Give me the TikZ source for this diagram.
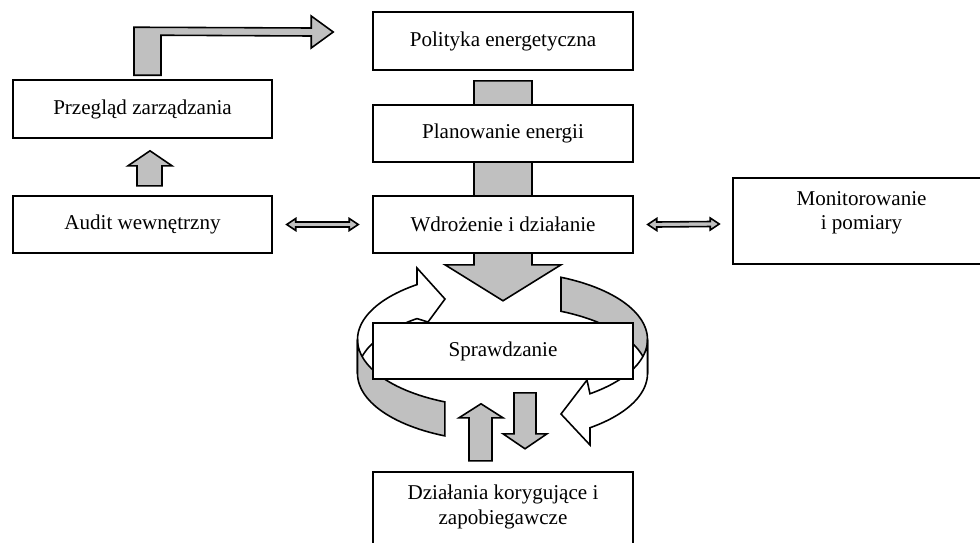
\documentclass[tikz,border=0pt]{standalone}
\usepackage{fontspec}
\setmainfont{Liberation Serif}
\usetikzlibrary{calc,backgrounds}
\definecolor{blockgray}{RGB}{192,192,192}
\begin{document}
\begin{tikzpicture}[x=0.02cm,y=-0.02cm,
  box/.style={draw, fill=white, line width=0.9pt, inner sep=0pt, align=center,
    font=\fontsize{12pt}{13.8pt}\selectfont},
  txt/.style={inner sep=0pt, align=center, font=\fontsize{12pt}{13.8pt}\selectfont},
  blk/.style={draw, fill=blockgray, line width=0.9pt, line join=miter},
  ringw/.style={draw, fill=white, line width=0.9pt, line join=miter},
  ringg/.style={draw, fill=blockgray, line width=0.9pt, line join=miter}]
\useasboundingbox (0,0) rectangle (980,542);
\clip (0,0) rectangle (980,542);

% boxes
\node[box, minimum width=5.2cm, minimum height=1.16cm] (pol) at (503,41) {Polityka energetyczna};
\node[box, minimum width=5.2cm, minimum height=1.14cm] (plan) at (503,133.5) {Planowanie energii};
\node[box, minimum width=5.2cm, minimum height=1.14cm] (wdr) at (503,224.5) {Wdrożenie i działanie};
\node[box, minimum width=5.18cm, minimum height=1.16cm] (prz) at (142.5,109) {Przegląd zarządzania};
\node[box, minimum width=5.18cm, minimum height=1.14cm] (aud) at (142.5,224.5) {Audit wewnętrzny};
\node[box, minimum width=5.14cm, minimum height=1.72cm] (mon) at (861.5,221) {};
\node[txt] at ($(mon.center)+(0,-8)$) {Monitorowanie\\i pomiary};
\node[box, minimum width=5.2cm, minimum height=1.12cm] (spr) at (503,351) {Sprawdzanie};
\node[box, minimum width=5.2cm, minimum height=1.76cm] (dzi) at (503,516) {};
\node[txt] at ($(dzi.center)+(0,-9)$) {Działania korygujące i\\zapobiegawcze};

\begin{pgfonlayer}{background}
  % central block arrow behind Planowanie / Wdrozenie
  \coordinate (c0) at ($(pol.south)+(-29,10)$);
  \draw[blk] (c0) -- ++(58,0) -- ++(0,184) -- ++(29,0) -- ($(wdr.south)+(0,47)$)
     -- ++(-58,-36) -- ++(29,0) -- cycle;
  % ring: back parts
  \draw[ringw] plot[domain=180:233.86,samples=30] ({502.5+145*cos(\x)},{339.5+68*sin(\x)})
     -- (417,268) -- (445,299) -- (428,322)
     -- plot[domain=233.86:180,samples=30] ({502.5+145*cos(\x)},{373.5+68*sin(\x)}) -- cycle;
  \draw[ringg] plot[domain=293.8:360,samples=30] ({502.5+145*cos(\x)},{339.5+68*sin(\x)})
     -- plot[domain=360:293.8,samples=30] ({502.5+145*cos(\x)},{373.5+68*sin(\x)}) -- cycle;
  % ring: front parts
  \draw[ringg] plot[domain=113.4:180,samples=30] ({502.5+145*cos(\x)},{373.5+68*sin(\x)})
     -- plot[domain=180:113.4,samples=30] ({502.5+145*cos(\x)},{339.5+68*sin(\x)}) -- cycle;
  \draw[ringw] plot[domain=0:52.9,samples=30] ({502.5+145*cos(\x)},{339.5+68*sin(\x)})
     -- (587,380) -- (561,414) -- (590,445)
     -- plot[domain=52.9:0,samples=30] ({502.5+145*cos(\x)},{373.5+68*sin(\x)}) -- cycle;
\end{pgfonlayer}

% bent arrow Przeglad -> Polityka
\coordinate (bt) at ($(pol.west)+(-39,-9)$);
\coordinate (bs) at ($(prz.north)+(-8.5,-4)$);
\draw[blk] (bs) -- ++(0,-48) -- ($(bt)+(-22,-4)$) -- ++(0,-12) -- (bt) -- ++(-22,16)
   -- ++(0,-12) -- ($(bs)+(27,-40)$) -- ++(0,40) -- cycle;

% up arrow Audit -> Przeglad
\coordinate (ut) at ($(prz.south)+(7.5,12)$);
\draw[blk] (ut) -- ++(22,15) -- ++(-10,0) -- ++(0,20) -- ++(-25,0) -- ++(0,-20) -- ++(-9,0) -- cycle;

% double arrows
\coordinate (d1a) at ($(aud.east)+(14,0)$);
\coordinate (d1b) at ($(wdr.west)+(-14,0)$);
\draw[blk] (d1a) -- ++(9,-6) -- ++(0,3.5) -- ($(d1b)+(-9,-2.5)$) -- ++(0,-3.5) -- (d1b)
   -- ++(-9,6) -- ++(0,-3.5) -- ($(d1a)+(9,2.5)$) -- ++(0,3.5) -- cycle;
\coordinate (d2a) at ($(wdr.east)+(14,0)$);
\coordinate (d2b) at ($(mon.west)+(-13,3)$);
\draw[blk] (d2a) -- ++(9,-6) -- ++(0,3.5) -- ($(d2b)+(-9,-2.5)$) -- ++(0,-3.5) -- (d2b)
   -- ++(-9,6) -- ++(0,-3.5) -- ($(d2a)+(9,2.5)$) -- ++(0,3.5) -- cycle;

% bottom arrows between Sprawdzanie and Dzialania
\coordinate (u2) at ($(spr.south)+(-22,24)$);
\draw[blk] (u2) -- ++(22,14) -- ++(-11,0) -- ++(0,43) -- ++(-23,0) -- ++(0,-43) -- ++(-10,0) -- cycle;
\coordinate (v2) at ($(spr.south)+(22,69)$);
\draw[blk] (v2) -- ++(22,-15) -- ++(-11,0) -- ++(0,-41) -- ++(-22,0) -- ++(0,41) -- ++(-11,0) -- cycle;
\end{tikzpicture}
\end{document}
